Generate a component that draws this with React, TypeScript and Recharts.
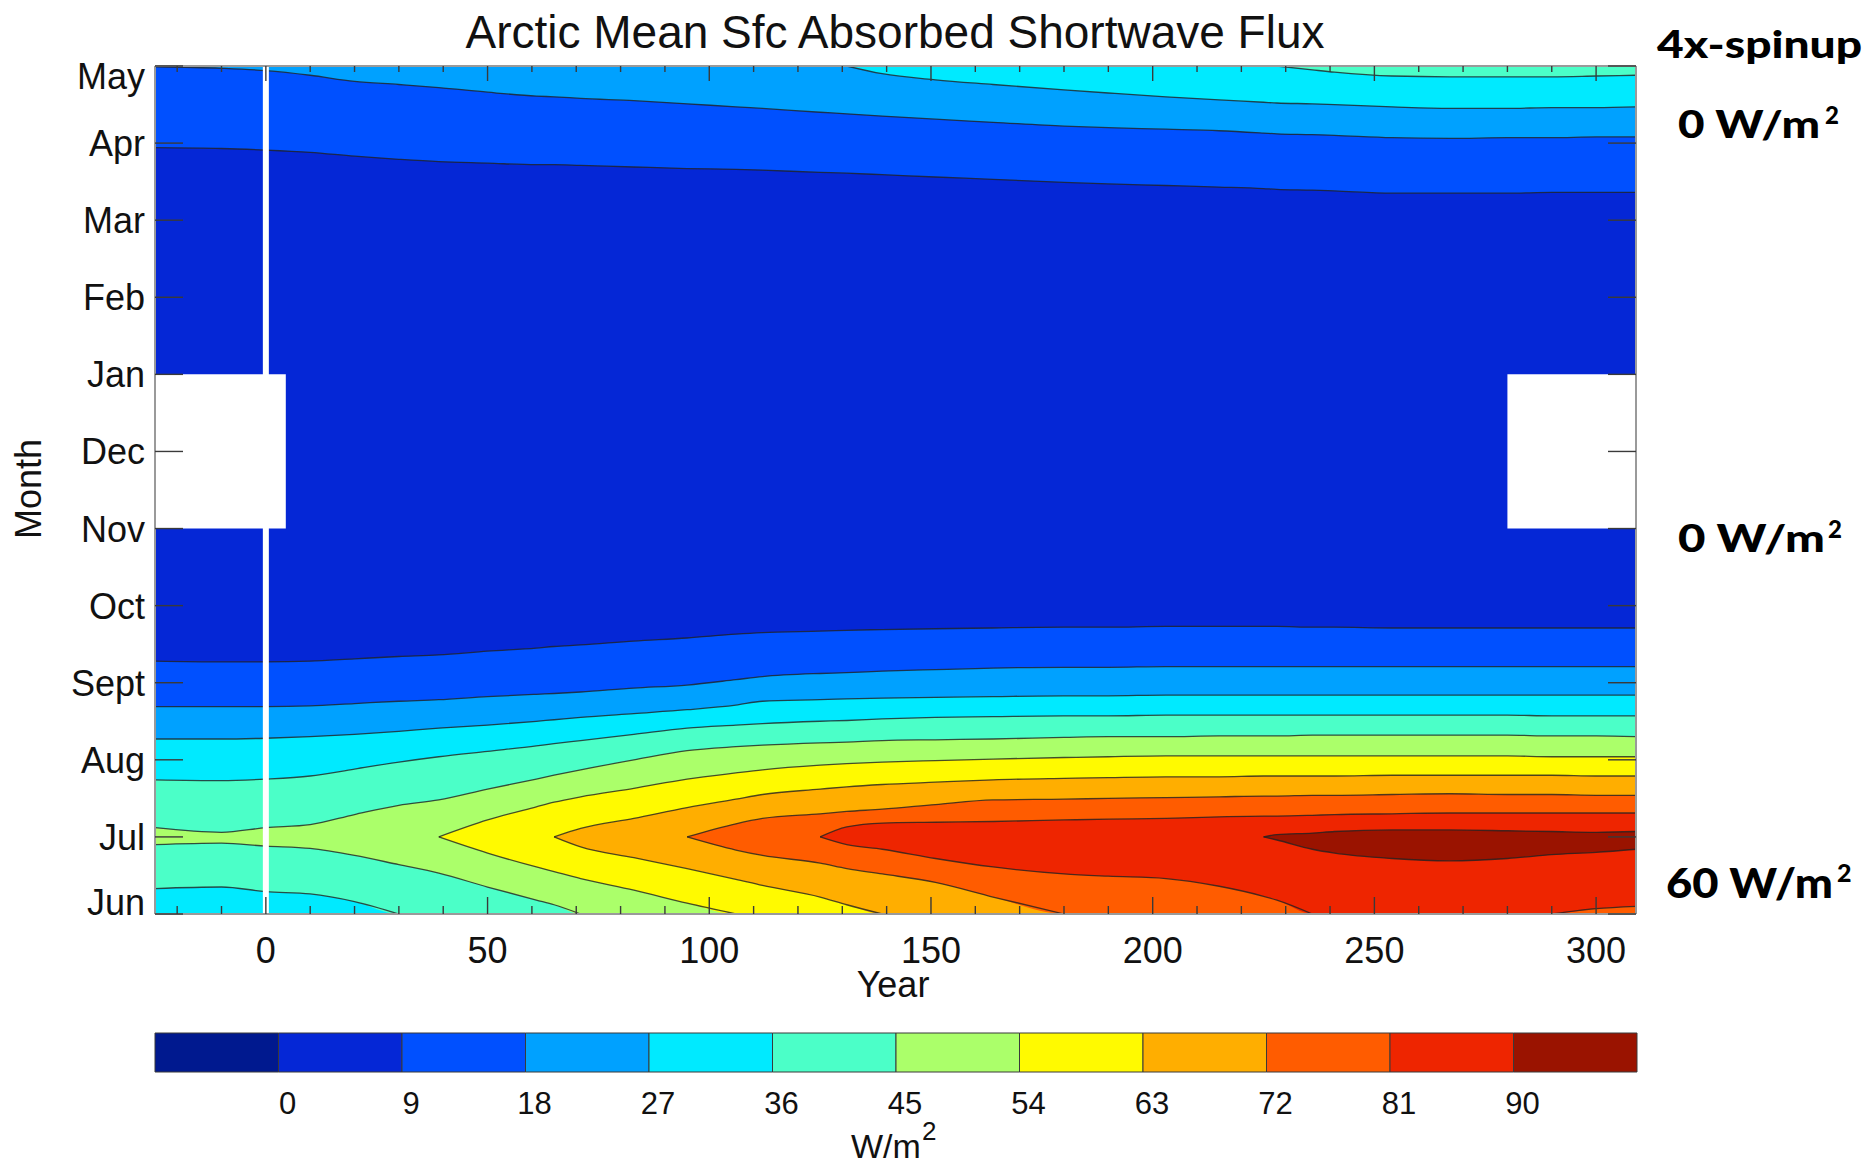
import React from 'react';
import {
  ComposedChart, Area, Line, XAxis, YAxis, ReferenceArea, ReferenceLine, BarChart, Bar,
} from 'recharts';

const years = [-25, -10, 0, 10, 20, 30, 39, 50, 61, 65, 71, 83, 95, 106, 112, 125, 131,
  139, 151, 164, 180, 190, 203, 215, 225, 228, 236, 241, 254, 267, 280, 290, 300, 309];

const monthLabels = ['Jun', 'Jul', 'Aug', 'Sept', 'Oct', 'Nov', 'Dec', 'Jan', 'Feb', 'Mar', 'Apr', 'May'];
const monthTicks = [0, 1, 2, 3, 4, 5, 6, 7, 8, 9, 10, 11];
const yearTicks = [-20, -10, 0, 10, 20, 30, 40, 50, 60, 70, 80, 90, 100, 110, 120, 130, 140, 150,
  160, 170, 180, 190, 200, 210, 220, 230, 240, 250, 260, 270, 280, 290, 300];
const levels = [0, 9, 18, 27, 36, 45, 54, 63, 72, 81, 90];
// below 0, 0-9, 9-18 ... 81-90, above 90
const palette = ['#00198f', '#0527d6', '#0050ff', '#00a1ff', '#00eaff', '#4bffc8',
  '#abff6a', '#fffa00', '#ffae00', '#ff5c00', '#ee2500', '#9a1300'];

const _ = null;
// summer side: months above Jun where flux crosses each level
const hi9 = [3.28, 3.27, 3.27, 3.28, 3.31, 3.34, 3.36, 3.41, 3.45, 3.47, 3.49, 3.54, 3.58, 3.63, 3.65, 3.67, 3.68,
  3.69, 3.70, 3.71, 3.72, 3.72, 3.73, 3.73, 3.73, 3.73, 3.72, 3.72, 3.71, 3.71, 3.71, 3.71, 3.71, 3.71];
const hi18 = [2.69, 2.69, 2.69, 2.70, 2.73, 2.76, 2.78, 2.82, 2.85, 2.86, 2.88, 2.93, 2.97, 3.04, 3.08, 3.12, 3.13,
  3.15, 3.17, 3.19, 3.20, 3.20, 3.21, 3.21, 3.21, 3.21, 3.21, 3.21, 3.21, 3.21, 3.21, 3.21, 3.21, 3.21];
const hi27 = [2.27, 2.27, 2.28, 2.30, 2.33, 2.37, 2.41, 2.45, 2.50, 2.52, 2.55, 2.60, 2.65, 2.71, 2.76, 2.78, 2.79,
  2.80, 2.81, 2.82, 2.83, 2.83, 2.84, 2.84, 2.84, 2.84, 2.84, 2.84, 2.84, 2.84, 2.84, 2.84, 2.84, 2.84];
const hi36 = [1.74, 1.73, 1.75, 1.79, 1.88, 1.97, 2.04, 2.11, 2.18, 2.21, 2.25, 2.33, 2.41, 2.45, 2.47, 2.50, 2.51,
  2.53, 2.55, 2.56, 2.57, 2.57, 2.58, 2.58, 2.58, 2.58, 2.58, 2.58, 2.58, 2.58, 2.58, 2.57, 2.57, 2.57];
const lo36 = [0.33, 0.35, 0.29, 0.26, 0.16, 0, 0, 0, 0, 0, 0, 0, 0, 0, 0, 0, 0,
  0, 0, 0, 0, 0, 0, 0, 0, 0, 0, 0, 0, 0, 0, 0, 0, 0];
const hi45 = [1.12, 1.06, 1.12, 1.16, 1.29, 1.41, 1.48, 1.62, 1.75, 1.80, 1.87, 2.00, 2.12, 2.17, 2.19, 2.22, 2.23,
  2.25, 2.26, 2.27, 2.29, 2.30, 2.30, 2.31, 2.31, 2.31, 2.32, 2.32, 2.32, 2.32, 2.32, 2.31, 2.31, 2.30];
const lo45 = [0.90, 0.92, 0.88, 0.85, 0.76, 0.64, 0.53, 0.35, 0.18, 0.12, 0, 0, 0, 0, 0, 0, 0,
  0, 0, 0, 0, 0, 0, 0, 0, 0, 0, 0, 0, 0, 0, 0, 0, 0];
const hi54 = [_, _, _, _, _, _, 1.00, 1.22, 1.39, 1.45, 1.52, 1.63, 1.75, 1.83, 1.87, 1.93, 1.95,
  1.97, 1.99, 2.01, 2.03, 2.04, 2.05, 2.05, 2.05, 2.05, 2.05, 2.05, 2.05, 2.05, 2.05, 2.04, 2.04, 2.04];
const lo54 = [_, _, _, _, _, _, 1.00, 0.79, 0.61, 0.55, 0.46, 0.31, 0.14, 0, 0, 0, 0,
  0, 0, 0, 0, 0, 0, 0, 0, 0, 0, 0, 0, 0, 0, 0, 0, 0];
const hi63 = [_, _, _, _, _, _, _, _, _, 1.00, 1.11, 1.24, 1.38, 1.49, 1.55, 1.62, 1.65,
  1.68, 1.71, 1.74, 1.76, 1.77, 1.78, 1.78, 1.79, 1.79, 1.79, 1.79, 1.80, 1.80, 1.80, 1.80, 1.79, 1.79];
const lo63 = [_, _, _, _, _, _, _, _, _, 1.00, 0.87, 0.73, 0.59, 0.45, 0.37, 0.22, 0.12,
  0, 0, 0, 0, 0, 0, 0, 0, 0, 0, 0, 0, 0, 0, 0, 0, 0];
const hi72 = [_, _, _, _, _, _, _, _, _, _, _, _, 1.00, 1.17, 1.24, 1.30, 1.33,
  1.36, 1.42, 1.48, 1.49, 1.50, 1.51, 1.52, 1.53, 1.53, 1.54, 1.54, 1.55, 1.56, 1.55, 1.55, 1.54, 1.54];
const lo72 = [_, _, _, _, _, _, _, _, _, _, _, _, 1.00, 0.83, 0.76, 0.66, 0.59,
  0.52, 0.41, 0.22, 0, 0, 0, 0, 0, 0, 0, 0, 0, 0, 0, 0, 0, 0];
const hi81 = [_, _, _, _, _, _, _, _, _, _, _, _, _, _, _, 1.00, 1.13,
  1.18, 1.19, 1.20, 1.22, 1.23, 1.24, 1.26, 1.27, 1.27, 1.28, 1.29, 1.30, 1.31, 1.31, 1.31, 1.31, 1.31];
const lo81 = [_, _, _, _, _, _, _, _, _, _, _, _, _, _, _, 1.00, 0.90,
  0.84, 0.72, 0.61, 0.52, 0.49, 0.46, 0.36, 0.23, 0.18, 0, 0, 0, 0, 0, 0, 0.07, 0.10];
const hi90 = [_, _, _, _, _, _, _, _, _, _, _, _, _, _, _, _, _,
  _, _, _, _, _, _, _, 1.00, 1.03, 1.05, 1.07, 1.09, 1.09, 1.08, 1.07, 1.06, 1.07];
const lo90 = [_, _, _, _, _, _, _, _, _, _, _, _, _, _, _, _, _,
  _, _, _, _, _, _, _, 1.00, 0.96, 0.84, 0.79, 0.72, 0.69, 0.72, 0.77, 0.80, 0.84];

// spring side (Apr-May): lower edge of each level
const spr9 = [9.94, 9.93, 9.91, 9.88, 9.83, 9.79, 9.76, 9.74, 9.72, 9.72, 9.71, 9.69, 9.67, 9.66, 9.65, 9.62, 9.61,
  9.59, 9.56, 9.53, 9.49, 9.47, 9.45, 9.43, 9.41, 9.40, 9.39, 9.38, 9.35, 9.35, 9.35, 9.36, 9.36, 9.36];
const spr18 = [10.99, 10.97, 10.94, 10.88, 10.80, 10.76, 10.72, 10.66, 10.61, 10.60, 10.58, 10.55, 10.51, 10.47, 10.45, 10.40, 10.38,
  10.35, 10.31, 10.27, 10.22, 10.20, 10.18, 10.16, 10.13, 10.12, 10.11, 10.10, 10.07, 10.06, 10.07, 10.07, 10.08, 10.08];
const spr27 = [_, _, _, _, _, _, _, _, _, _, _, _, _, _, _, _, 11.00,
  10.90, 10.82, 10.76, 10.69, 10.65, 10.60, 10.56, 10.53, 10.52, 10.51, 10.50, 10.47, 10.45, 10.45, 10.46, 10.46, 10.47];
const spr36 = [_, _, _, _, _, _, _, _, _, _, _, _, _, _, _, _, _,
  _, _, _, _, _, _, _, _, 11.00, 10.95, 10.92, 10.87, 10.86, 10.86, 10.86, 10.87, 10.88];

// missing data (Nov-Jan) at both ends of the run
const gapYears = [[-25, 4.5], [280, 309]];
const gapMonths = [5, 7];

const floor = years.map(() => 0);
const ceil = years.map(() => 11);

const bands = [
  { key: 'all', fill: palette[1], lo: floor, hi: ceil },
  { key: 's9', fill: palette[2], lo: floor, hi: hi9 },
  { key: 'p9', fill: palette[2], lo: spr9, hi: ceil },
  { key: 's18', fill: palette[3], lo: floor, hi: hi18 },
  { key: 'p18', fill: palette[3], lo: spr18, hi: ceil },
  { key: 's27', fill: palette[4], lo: floor, hi: hi27 },
  { key: 'p27', fill: palette[4], lo: spr27, hi: ceil },
  { key: 's36', fill: palette[5], lo: lo36, hi: hi36 },
  { key: 'p36', fill: palette[5], lo: spr36, hi: ceil },
  { key: 's45', fill: palette[6], lo: lo45, hi: hi45 },
  { key: 's54', fill: palette[7], lo: lo54, hi: hi54 },
  { key: 's63', fill: palette[8], lo: lo63, hi: hi63 },
  { key: 's72', fill: palette[9], lo: lo72, hi: hi72 },
  { key: 's81', fill: palette[10], lo: lo81, hi: hi81 },
  { key: 's90', fill: palette[11], lo: lo90, hi: hi90 },
];

const edges: [string, (number | null)[]][] = [
  ['hi9', hi9], ['hi18', hi18], ['hi27', hi27], ['hi36', hi36], ['lo36', lo36], ['hi45', hi45], ['lo45', lo45],
  ['hi54', hi54], ['lo54', lo54], ['hi63', hi63], ['lo63', lo63], ['hi72', hi72], ['lo72', lo72],
  ['hi81', hi81], ['lo81', lo81], ['hi90', hi90], ['lo90', lo90],
  ['spr9', spr9], ['spr18', spr18], ['spr27', spr27], ['spr36', spr36],
];

// drop the stretches where a contour just lies on the bottom edge
const trim = (a: (number | null)[]) =>
  a.map((v, i) => (v === 0 && !((a[i - 1] ?? 0) > 0) && !((a[i + 1] ?? 0) > 0) ? null : v));

const rows = years.map((year, i) => {
  const row: any = { year };
  bands.forEach((b) => {
    const lo = b.lo[i];
    const hi = b.hi[i];
    row[b.key] = lo == null || hi == null ? null : [lo, hi];
  });
  edges.forEach(([name, arr]) => { row['e_' + name] = trim(arr)[i]; });
  return row;
});

const cbRow = [Object.fromEntries([['name', 'cb'], ...palette.map((_c, i) => ['c' + i, 1])])];
const cbTicks = levels.map((_l, i) => i + 1);

const FONT = "'Liberation Sans', Arial, Helvetica, sans-serif";
const TICK = '#3a3a3a';

function YearTick({ x, y, payload }: any) {
  const v = payload.value as number;
  const major = v % 50 === 0;
  return (
    <g>
      <line x1={x} x2={x} y1={y} y2={y - (major ? 17 : 8)} stroke={TICK} strokeWidth={1.4} />
      {major && (
        <text x={x} y={y + 49} textAnchor="middle" fontSize={36} fill="#111" fontFamily={FONT}>{v}</text>
      )}
    </g>
  );
}

function TopTick({ x, y, payload }: any) {
  const major = payload.value % 50 === 0;
  return <line x1={x} x2={x} y1={y} y2={y + (major ? 15 : 6)} stroke={TICK} strokeWidth={1.4} />;
}

function MonthTick({ x, y, payload }: any) {
  const v = payload.value as number;
  const shift = v === 0 ? -12 : v === 11 ? 10 : 0;
  return (
    <g>
      <line x1={x} x2={x + 28} y1={y} y2={y} stroke={TICK} strokeWidth={1.4} />
      <text x={x - 10} y={y + 13 + shift} textAnchor="end" fontSize={36} fill="#111" fontFamily={FONT}>
        {monthLabels[v]}
      </text>
    </g>
  );
}

function RightTick({ x, y }: any) {
  return <line x1={x} x2={x - 28} y1={y} y2={y} stroke={TICK} strokeWidth={1.4} />;
}

function CbTick({ x, y, payload }: any) {
  return (
    <text x={x + 9} y={y + 42} textAnchor="middle" fontSize={31} fill="#111" fontFamily={FONT}>
      {levels[payload.value - 1]}
    </text>
  );
}

export default function App() {
  const border = { stroke: '#9a9a9a', strokeWidth: 2 };
  return (
    <div style={{ position: 'absolute', left: 0, top: 0, width: 1868, height: 1170, background: '#fff', fontFamily: FONT }}>
      <div style={{ position: 'absolute', left: 0, top: 0 }}>
        <ComposedChart width={1868} height={1010} data={rows} margin={{ top: 65, right: 0, bottom: 0, left: 0 }}>
          {bands.map((b) => (
            <Area key={b.key} dataKey={b.key} type="monotone" stroke="none" fill={b.fill} fillOpacity={1}
              isAnimationActive={false} activeDot={false} />
          ))}
          {edges.map(([name]) => (
            <Line key={name} dataKey={'e_' + name} type="monotone" stroke="#222" strokeOpacity={0.8}
              strokeWidth={1.3} dot={false} activeDot={false} isAnimationActive={false} />
          ))}
          {gapYears.map((g) => (
            <ReferenceArea key={g[0]} x1={g[0]} x2={g[1]} y1={gapMonths[0]} y2={gapMonths[1]}
              fill="#fff" fillOpacity={1} stroke="none" zIndex={450} />
          ))}
          <ReferenceLine x={0} stroke="#fff" strokeWidth={6} zIndex={450} />
          <XAxis dataKey="year" type="number" domain={[-25, 309]} allowDataOverflow ticks={yearTicks}
            interval={0} tickSize={0} tickMargin={0} tickLine={false} tick={<YearTick />} axisLine={border} height={96} />
          <XAxis xAxisId="top" orientation="top" dataKey="year" type="number" domain={[-25, 309]} allowDataOverflow
            ticks={yearTicks} interval={0} tickSize={0} tickMargin={0} tickLine={false} tick={<TopTick />} axisLine={border} height={1} />
          <YAxis type="number" domain={[0, 11]} allowDataOverflow ticks={monthTicks} interval={0}
            tickSize={0} tickMargin={0} tickLine={false} tick={<MonthTick />} axisLine={border} width={155} />
          <YAxis yAxisId="right" orientation="right" type="number" domain={[0, 11]} allowDataOverflow ticks={monthTicks}
            interval={0} tickSize={0} tickMargin={0} tickLine={false} tick={<RightTick />} axisLine={border} width={232} />
        </ComposedChart>
      </div>
      <div style={{ position: 'absolute', left: 0, top: 1020 }}>
        <BarChart layout="vertical" width={1868} height={110} data={cbRow} barCategoryGap={0}
          margin={{ top: 13, right: 231, bottom: 0, left: 155 }}>
          <XAxis type="number" domain={[0, 12]} ticks={cbTicks} interval={0} tickSize={0} tickMargin={0}
            tickLine={false} axisLine={false} tick={<CbTick />} height={58} />
          <YAxis type="category" dataKey="name" hide />
          {palette.map((c, i) => (
            <Bar key={c} dataKey={'c' + i} stackId="cb" fill={c} stroke="#3a3a3a" strokeWidth={1} isAnimationActive={false} />
          ))}
        </BarChart>
      </div>
      <svg width={1868} height={1170} style={{ position: 'absolute', left: 0, top: 0, pointerEvents: 'none' }}>
        <g fontFamily={FONT} fill="#111">
          <text x={895} y={48} fontSize={46} textAnchor="middle">Arctic Mean Sfc Absorbed Shortwave Flux</text>
          <text x={893} y={997} fontSize={36} textAnchor="middle">Year</text>
          <text x={41} y={489} fontSize={36} textAnchor="middle" transform="rotate(-90 41 489)">Month</text>
          <text x={851} y={1158} fontSize={34}>W/m</text>
          <text x={922} y={1140} fontSize={26}>2</text>
        </g>
        <g fontFamily="Lato, 'Open Sans', sans-serif" fontWeight={900} fill="#000">
          <text x={1657} y={58} fontSize={37} textLength={205} lengthAdjust="spacingAndGlyphs">4x-spinup</text>
          <text x={1678} y={138} fontSize={38} textLength={142} lengthAdjust="spacingAndGlyphs">0 W/m</text>
          <text x={1825} y={124} fontSize={24}>2</text>
          <text x={1678} y={552} fontSize={38} textLength={147} lengthAdjust="spacingAndGlyphs">0 W/m</text>
          <text x={1828} y={538} fontSize={24}>2</text>
          <text x={1666} y={898} fontSize={41} textLength={167} lengthAdjust="spacingAndGlyphs">60 W/m</text>
          <text x={1837} y={882} fontSize={25}>2</text>
        </g>
      </svg>
    </div>
  );
}
